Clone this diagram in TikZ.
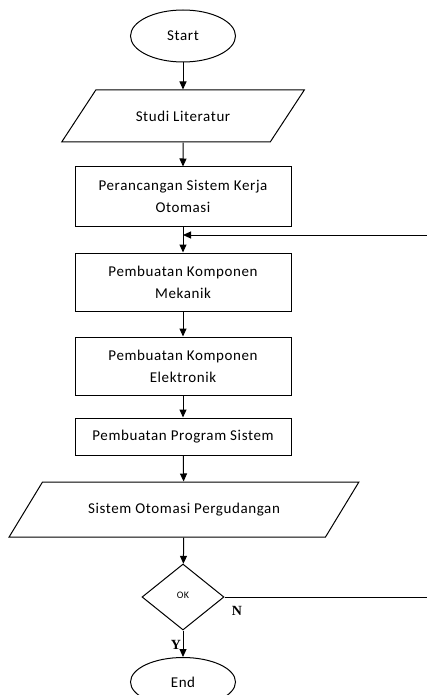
\documentclass[tikz,border=0pt]{standalone}
\usepackage{fontspec}
\setmainfont[LetterSpace=4]{Carlito}
\newfontfamily\yesnofont{Liberation Serif}
\usetikzlibrary{shapes.geometric,arrows.meta}

\begin{document}
\begin{tikzpicture}[x=1pt, y=-1pt, line width=1pt,
    every node/.style={font=\fontsize{15}{22}\selectfont},
    term/.style={draw, ellipse, minimum width=105pt, minimum height=52pt, inner sep=0pt},
    io/.style={draw, trapezium, trapezium left angle=41, trapezium right angle=139,
               trapezium stretches=true, minimum width=243pt, minimum height=52pt},
    proc/.style={draw, rectangle, minimum width=216pt, minimum height=58pt, align=center},
    dec/.style={draw, diamond, minimum width=82pt, minimum height=66pt, inner sep=0pt,
                font=\fontsize{10}{12}\selectfont},
    yn/.style={font=\yesnofont\bfseries\fontsize{14}{16}\selectfont},
    arr/.style={-{Triangle[length=8pt,width=7pt]}}
]
\useasboundingbox (0,0) rectangle (427,695);

\node[term] (start)  at (183, 36)   {Start};
\node[io]   (lit)    at (183,116)   {Studi Literatur};
\node[proc, minimum height=59pt] (design) at (183,196.5) {Perancangan Sistem Kerja\\Otomasi};
\node[proc] (mech)   at (183,282)   {Pembuatan Komponen\\Mekanik};
\node[proc] (elec)   at (183,366)   {Pembuatan Komponen\\Elektronik};
\node[proc, minimum height=37pt] (prog) at (183,436.5) {Pembuatan Program Sistem};
\node[io, minimum width=350pt, minimum height=55pt,
      trapezium left angle=40, trapezium right angle=140] (sys) at (184,509.5) {Sistem Otomasi Pergudangan};
\node[dec]  (ok)     at (183,597)   {\raisebox{4pt}{OK}};
\node[term, minimum height=49pt] (end) at (183,682) {End};

\node[yn] (no)  at (237,611) {N};
\node[yn] (yes) at (176,645) {Y};

\coordinate (back) at (427.2,235);
\coordinate (join) at (183,235);

\draw[arr] (start)  -- (lit);
\draw[arr] (lit)    -- (design);
\draw[arr] (design) -- (mech);
\draw[arr] (mech)   -- (elec);
\draw[arr] (elec)   -- (prog);
\draw[arr] (prog)   -- (sys);
\draw[arr] (sys)    -- (ok);
\draw[arr] (ok)     -- (end);
\draw[arr] (ok.east) -| (back) -- (join);
\end{tikzpicture}
\end{document}
